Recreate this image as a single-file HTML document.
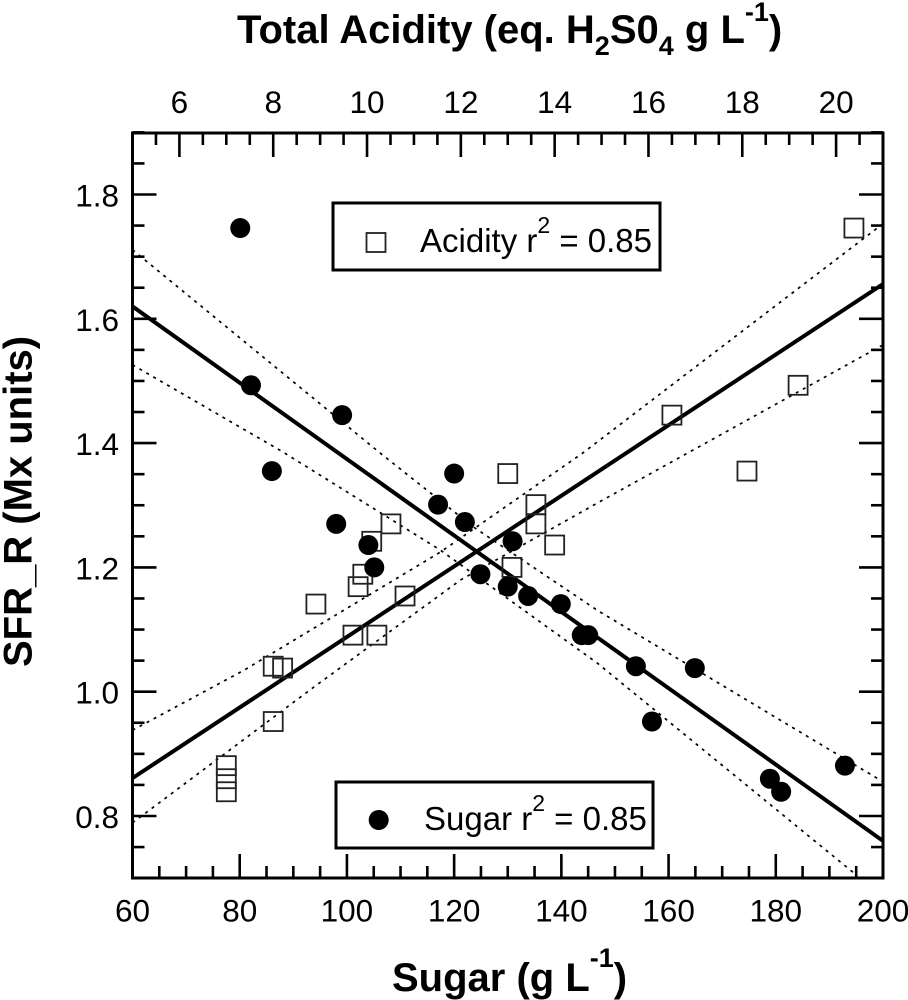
<!DOCTYPE html>
<html lang="en">
<head>
<meta charset="utf-8">
<title>SFR_R vs Sugar and Total Acidity</title>
<style>
html,body{margin:0;padding:0;background:#fff}
svg{display:block}
text{font-family:"Liberation Sans",Arial,sans-serif;fill:#000}
.tick-label{font-size:31.5px}
.axis-title{font-size:40px;font-weight:bold}
.legend-text{font-size:33px}
</style>
</head>
<body>
<svg id="chart" xmlns="http://www.w3.org/2000/svg" width="908" height="1000" viewBox="0 0 908 1000">
  <defs>
    <clipPath id="plot-clip"><rect x="132.5" y="133" width="750.5" height="745"></rect></clipPath>
  </defs>
  <rect x="0" y="0" width="908" height="1000" fill="#fff"></rect>
  <g id="series-lines" clip-path="url(#plot-clip)"></g>
  <g id="ticks"></g>
  <g id="tick-labels"></g>
  <g id="points"></g>
  <rect x="132.5" y="133" width="750.5" height="745" fill="none" stroke="#000" stroke-width="3"></rect>

  <text class="axis-title" x="237" y="43">Total Acidity (eq. H<tspan font-size="27" dy="12">2</tspan><tspan dy="-12">S0</tspan><tspan font-size="27" dy="12">4</tspan><tspan dy="-12"> g L</tspan><tspan font-size="27" dy="-22">-1</tspan><tspan dy="22">)</tspan></text>
  <text class="axis-title" x="392" y="991">Sugar (g L<tspan font-size="27" dy="-24">-1</tspan><tspan dy="24">)</tspan></text>
  <text class="axis-title" transform="translate(31.5,667) rotate(-90)" x="0" y="0">SFR_R (Mx units)</text>

  <g>
    <rect x="333" y="203" width="327" height="67" fill="#fff" stroke="#000" stroke-width="3"></rect>
    <rect x="366.5" y="233" width="19" height="19" fill="#fff" stroke="#222" stroke-width="1.8"></rect>
    <text class="legend-text" x="420" y="252">Acidity r<tspan font-size="23" dy="-19">2</tspan><tspan dy="19"> = 0.85</tspan></text>
  </g>
  <g>
    <rect x="336" y="782" width="317" height="66" fill="#fff" stroke="#000" stroke-width="3"></rect>
    <circle cx="378.7" cy="820" r="10" fill="#000"></circle>
    <text class="legend-text" x="424" y="830">Sugar r<tspan font-size="23" dy="-19">2</tspan><tspan dy="19"> = 0.85</tspan></text>
  </g>
</svg>
<script>
// ---- Data ----
const sfrValues = [1.746,1.493,1.355,1.445,1.270,1.236,1.200,1.301,1.351,1.273,1.189,1.169,1.242,1.154,1.141,1.091,1.091,1.041,0.952,1.038,0.860,0.839,0.881];
const sugarValues = [80.1,82.1,86.0,99.1,98.0,104.0,105.1,117.0,120.0,122.0,124.9,130.0,130.9,133.8,139.9,143.8,145.0,153.9,156.9,164.9,178.9,181.0,192.9];
const acidityValues = [20.38,19.19,18.1,16.5,10.51,10.1,13.09,13.6,13.0,13.6,9.91,9.81,14.0,10.81,8.91,9.7,10.21,8.0,8.0,8.2,7.0,7.0,7.0];
const acidityYValues = [1.746,1.493,1.355,1.445,1.270,1.242,1.200,1.301,1.351,1.270,1.189,1.169,1.236,1.154,1.141,1.091,1.091,1.041,0.952,1.038,0.881,0.860,0.839];

const sugarFitX = [60,200];
const sugarFitY = [1.62,0.76];
const acidityFitX = [5,21];
const acidityFitY = [0.861,1.656];

const sugarUpperX = [60,105.9,123.6,146.7,200];
const sugarUpperY = [1.711,1.386,1.265,1.131,0.855];
const sugarLowerX = [60,88,117.4,146.7,194.6];
const sugarLowerY = [1.526,1.386,1.228,1.046,0.708];
const acidityUpperX = [5,7.39,11.57,14.6,21];
const acidityUpperY = [0.938,1.035,1.225,1.384,1.753];
const acidityLowerX = [5,8.84,12.0,14.92,21];
const acidityLowerY = [0.789,1.006,1.18,1.304,1.558];

const bottomTickLabels = [60,80,100,120,140,160,180,200];
const topTickLabels = [6,8,10,12,14,16,18,20];
const leftTickLabels = ["0.8","1.0","1.2","1.4","1.6","1.8"];

// ---- Axis functions ----
const PLOT = {left:132.5,right:883,top:133,bottom:878};
function xSugar(v){return PLOT.left+(v-60)/(200-60)*(PLOT.right-PLOT.left);}
function xAcid(v){return PLOT.left+(v-5)/(21-5)*(PLOT.right-PLOT.left);}
function yVal(v){return 816-(v-0.8)*621.5;}

const NS='http://www.w3.org/2000/svg';
function mk(tag,parent,attrs){
  const el=document.createElementNS(NS,tag);
  for(const k in attrs){el.setAttribute(k,attrs[k]);}
  parent.appendChild(el);
  return el;
}
const lineG=document.getElementById('series-lines');
const tickG=document.getElementById('ticks');
const labelG=document.getElementById('tick-labels');
const pointG=document.getElementById('points');

function pathFrom(xs,ys,xf){
  return xs.map(function(x,i){return (i?'L':'M')+xf(x).toFixed(1)+' '+yVal(ys[i]).toFixed(1);}).join(' ');
}
function drawFit(xs,ys,xf,name){
  const p=mk('path',lineG,{d:pathFrom(xs,ys,xf),fill:'none',stroke:'#000','stroke-width':4});
  
  
}
function drawBand(xs,ys,xf,name){
  const p=mk('path',lineG,{d:pathFrom(xs,ys,xf),fill:'none',stroke:'#000','stroke-width':1.7,'stroke-dasharray':'3 5'});
  
  
}
drawBand(sugarUpperX,sugarUpperY,xSugar,'sugar-upper-confidence');
drawBand(sugarLowerX,sugarLowerY,xSugar,'sugar-lower-confidence');
drawBand(acidityUpperX,acidityUpperY,xAcid,'acidity-upper-confidence');
drawBand(acidityLowerX,acidityLowerY,xAcid,'acidity-lower-confidence');
drawFit(sugarFitX,sugarFitY,xSugar,'sugar-regression-line');
drawFit(acidityFitX,acidityFitY,xAcid,'acidity-regression-line');

function tick(x1,y1,x2,y2){
  const t=mk('line',tickG,{x1:x1,y1:y1,x2:x2,y2:y2,stroke:'#000','stroke-width':2.6});
  
  
}
// bottom x ticks: major every 20, minor every 5
for(let v=60;v<=200;v+=5){
  const len=(v%20===0)?24:12;
  const x=xSugar(v);
  tick(x,PLOT.bottom,x,PLOT.bottom-len);
}
// top x ticks: major every 2, minor every 0.5
for(let v=5;v<=21;v+=0.5){
  const len=(v%2===0)?24:12;
  const x=xAcid(v);
  tick(x,PLOT.top,x,PLOT.top+len);
}
// y ticks, both sides: major every 0.2, minor every 0.05
for(let i=0;i<=24;i++){
  const v=0.7+i*0.05;
  const isMajor=(i-2)%4===0;
  const len=isMajor?24:12;
  const y=yVal(v);
  tick(PLOT.left,y,PLOT.left+len,y);
  tick(PLOT.right,y,PLOT.right-len,y);
}
function label(txt,x,y,anchor,name){
  const t=mk('text',labelG,{x:x,y:y,'text-anchor':anchor,'class':'tick-label'});
  t.textContent=txt;
  
  
}
bottomTickLabels.forEach(function(v){label(String(v),xSugar(v),921.5,'middle','bottom-tick-label');});
topTickLabels.forEach(function(v){label(String(v),xAcid(v),113,'middle','top-tick-label');});
leftTickLabels.forEach(function(v){label(v,119,yVal(parseFloat(v))+12,'end','left-tick-label');});

// points
acidityValues.forEach(function(a,i){
  const s=mk('rect',pointG,{x:xAcid(a)-9.5,y:yVal(acidityYValues[i])-9.5,width:19,height:19,fill:'none',stroke:'#222','stroke-width':1.8});
  
  
});
sugarValues.forEach(function(a,i){
  const c=mk('circle',pointG,{cx:xSugar(a),cy:yVal(sfrValues[i]),r:10,fill:'#000'});
  
  
});
</script>
</body>
</html>
